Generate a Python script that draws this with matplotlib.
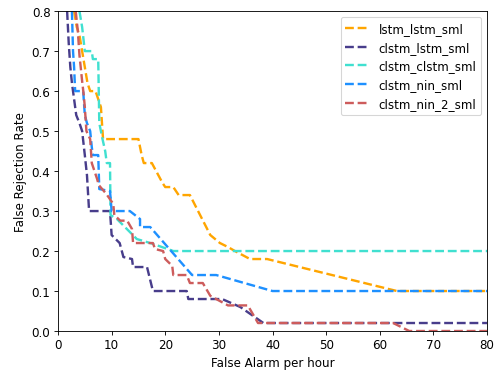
import matplotlib
matplotlib.use("Agg")
import matplotlib.pyplot as plt

plt.rcParams['font.size'] = 10.9

labels = ["lstm_lstm_sml", "clstm_lstm_sml", "clstm_clstm_sml", "clstm_nin_sml", "clstm_nin_2_sml"]
colors = ["orange", "darkslateblue", "turquoise", "dodgerblue", "indianred"]

x_lstm_lstm = [3.0, 3.5, 4.0, 4.5, 5.0, 5.5, 6.0, 7.0, 7.5, 8.0, 8.4, 15.0, 15.6, 16.0, 17.5, 19.5, 20.0, 21.5, 22.5, 24.6, 26.5, 28.4, 30.2, 31.7, 33.0, 35.8, 39.0, 63.2, 80.0]
y_lstm_lstm = [0.8, 0.76, 0.74, 0.7, 0.66, 0.62, 0.6, 0.6, 0.58, 0.56, 0.48, 0.48, 0.44, 0.42, 0.42, 0.37, 0.36, 0.36, 0.34, 0.34, 0.29, 0.24, 0.22, 0.21, 0.2, 0.18, 0.18, 0.10, 0.10]

x_clstm_lstm = [1.7, 2.0, 2.3, 2.6, 3.0, 3.4, 4.0, 4.5, 5.0, 5.4, 5.8, 9.7, 10.0, 11.5, 12.2, 13.8, 14.0, 16.6, 17.7, 24.0, 24.3, 30.6, 34.0, 38.3, 80.0]
y_clstm_lstm = [0.8, 0.72, 0.66, 0.62, 0.58, 0.54, 0.52, 0.50, 0.44, 0.39, 0.30, 0.30, 0.24, 0.22, 0.185, 0.18, 0.16, 0.16, 0.10, 0.10, 0.08, 0.08, 0.06, 0.02, 0.02]

x_clstm_clstm = [4.0, 4.5, 5.0, 6.3, 6.5, 7.5, 7.7, 8.3, 8.8, 9.1, 9.7, 9.8, 11.0, 14.7, 17.7, 21.5, 80.0]
y_clstm_clstm = [0.8, 0.76, 0.70, 0.70, 0.68, 0.68, 0.52, 0.48, 0.45, 0.42, 0.42, 0.29, 0.28, 0.23, 0.218, 0.2, 0.2]

x_clstm_nin = [2.6, 2.8, 3.0, 3.2, 4.7, 5.0, 5.4, 6.0, 6.3, 6.5, 7.5, 7.7, 9.7, 10.0, 13.4, 15.3, 15.3, 17.2, 25.0, 29.5, 40.0, 80.0]
y_clstm_nin = [0.8, 0.7, 0.66, 0.6, 0.6, 0.54, 0.52, 0.5, 0.46, 0.44, 0.44, 0.355, 0.35, 0.30, 0.30, 0.28, 0.26, 0.26, 0.14, 0.14, 0.10, 0.10]

x_clstm_nin_2 = [3.3, 3.7, 4.0, 4.5, 4.8, 5.0, 5.3, 6.0, 6.3, 7.3, 7.6, 9.0, 10.3, 10.5, 11.6, 12.9, 13.8, 14.0, 17.7, 18.1, 19.6, 20.0, 21.3, 21.5, 24.0, 24.6, 27.0, 28.4, 31.7, 35.4, 37.3, 62.5, 65.5, 80.0]
y_clstm_nin_2 = [0.8, 0.75, 0.69, 0.625, 0.59, 0.56, 0.5, 0.48, 0.42, 0.38, 0.365, 0.343, 0.318, 0.29, 0.276, 0.276, 0.255, 0.22, 0.22, 0.205, 0.2, 0.18, 0.163, 0.14, 0.14, 0.12, 0.12, 0.088, 0.064, 0.064, 0.02, 0.02, 0.0, 0.0]

xs = [x_lstm_lstm, x_clstm_lstm, x_clstm_clstm, x_clstm_nin, x_clstm_nin_2]
ys = [y_lstm_lstm, y_clstm_lstm, y_clstm_clstm, y_clstm_nin, y_clstm_nin_2]

fig = plt.figure(figsize=(6.4, 4.76), dpi=78.125)
ax = fig.add_axes([58/500, 1-332/372, (487-58)/500, (332-12)/372])
for x, y, c, l in zip(xs, ys, colors, labels):
    ax.plot(x, y, linestyle="--", color=c, linewidth=2.2, label=l)
ax.set_xlim(0, 80)
ax.set_ylim(0, 0.8)
ax.set_xticks(range(0, 81, 10))
ax.set_yticks([0.0, 0.1, 0.2, 0.3, 0.4, 0.5, 0.6, 0.7, 0.8])
ax.set_xlabel("False Alarm per hour")
ax.set_ylabel("False Rejection Rate")
ax.legend(loc="upper right")
fig.savefig("out.png", dpi=78.125)
